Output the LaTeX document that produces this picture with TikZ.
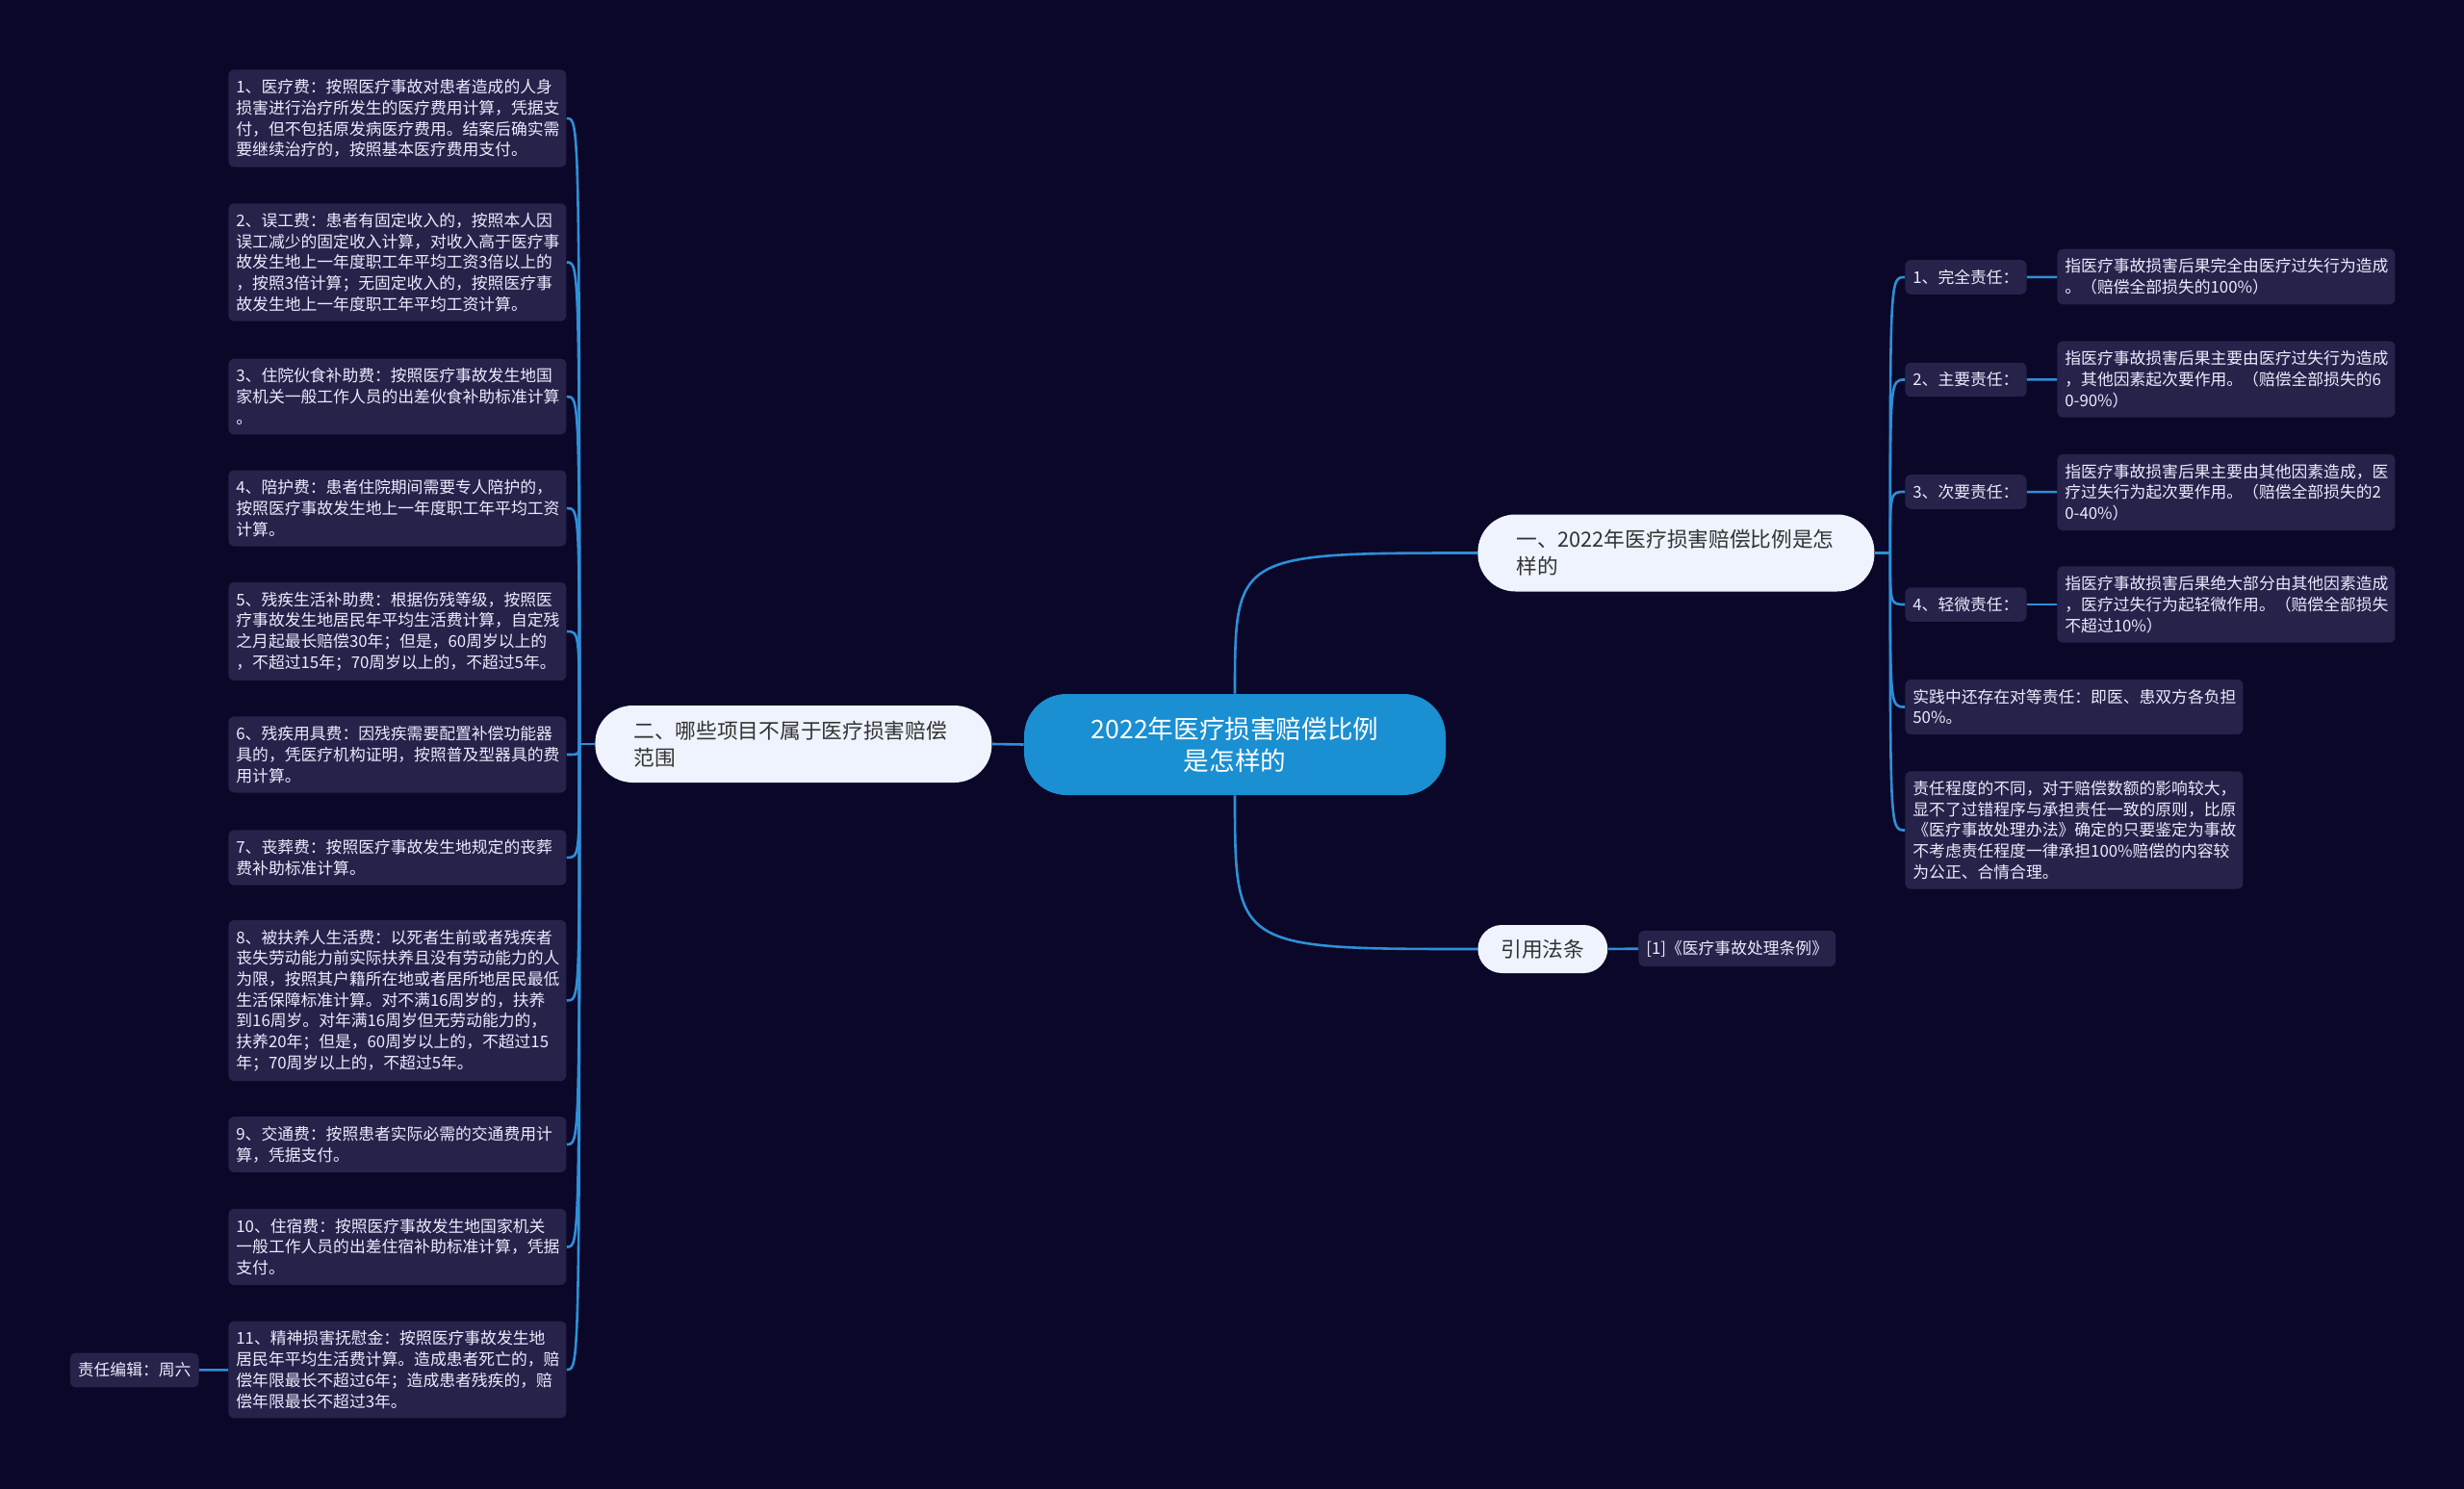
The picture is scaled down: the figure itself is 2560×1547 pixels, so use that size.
\documentclass[tikz,border=0pt]{standalone}
\usepackage{fontspec}
\setmainfont{Noto Sans CJK SC}
\definecolor{bgdark}{HTML}{0B0729}
\definecolor{leafbg}{HTML}{262249}
\definecolor{linkblue}{HTML}{2E8FD6}
\definecolor{rootblue}{HTML}{1A8FD2}
\definecolor{topicbg}{HTML}{EEF3FD}
\definecolor{topictext}{HTML}{333333}
\begin{document}
\begin{tikzpicture}[x=0.5pt,y=-0.5pt,
  leaf/.style={anchor=west, fill=leafbg, rounded corners=3pt, text=white!92!blue, inner xsep=4pt, inner ysep=5pt, align=left, font=\fontsize{8.4pt}{10.85pt}\selectfont},
  wideleaf/.style={leaf, text width=167.5pt},
  topic/.style={anchor=west, fill=topicbg, text=topictext, rounded corners=19.5pt, inner xsep=20pt, inner ysep=7pt, minimum height=40pt, text width=166pt, align=left, font=\fontsize{10.85pt}{14pt}\selectfont},
  link/.style={draw=linkblue, line width=1.3pt}]
\useasboundingbox (0,0) rectangle (2560,1547);
\fill[bgdark] (0,0) rectangle (2560,1547);
% root and main topics
\node[fill=rootblue, text=white, rounded corners=22pt, inner xsep=24.5pt, inner ysep=6pt, minimum height=52.5pt, text width=170pt, align=center, font=\fontsize{13.3pt}{16.5pt}\selectfont] (root) at (1283,773.5){2022年医疗损害赔偿比例\\是怎样的};
\node[topic] (tpa) at (1535,574.5){一、2022年医疗损害赔偿比例是怎\\样的};
\node[topic] (tpb) at (618,773){二、哪些项目不属于医疗损害赔偿\\范围};
\node[topic, text width=, minimum height=25pt, rounded corners=12.5pt, inner xsep=12pt] (tpc) at (1535,986){引用法条};
\draw[link](root.west) -- (tpb.east);
\draw[link](root.north) .. controls (root.north |- tpa.west) .. (tpa.west);
\draw[link](root.south) .. controls (root.south |- tpc.west) .. (tpc.west);
% right branch: degrees of liability
\coordinate (hubA) at ([xshift=8pt]tpa.east);
\draw[link](tpa.east) -- (hubA);
\node[leaf] (ra1) at (1979,288){1、完全责任：};
\node[wideleaf] (rb1) at (2137,287.5){指医疗事故损害后果完全由医疗过失行为造成\\。（赔偿全部损失的100\%）};
\node[leaf] (ra2) at (1979,394.5){2、主要责任：};
\node[wideleaf] (rb2) at (2137,394){指医疗事故损害后果主要由医疗过失行为造成\\，其他因素起次要作用。（赔偿全部损失的6\\0-90\%）};
\node[leaf] (ra3) at (1979,511){3、次要责任：};
\node[wideleaf] (rb3) at (2137,511.5){指医疗事故损害后果主要由其他因素造成，医\\疗过失行为起次要作用。（赔偿全部损失的2\\0-40\%）};
\node[leaf] (ra4) at (1979,628){4、轻微责任：};
\node[wideleaf] (rb4) at (2137,628){指医疗事故损害后果绝大部分由其他因素造成\\，医疗过失行为起轻微作用。（赔偿全部损失\\不超过10\%）};
\node[wideleaf] (ra5) at (1979,734.5){实践中还存在对等责任：即医、患双方各负担\\50\%。};
\node[wideleaf] (ra6) at (1979,862.5){责任程度的不同，对于赔偿数额的影响较大，\\显不了过错程序与承担责任一致的原则，比原\\《医疗事故处理办法》确定的只要鉴定为事故\\不考虑责任程度一律承担100\%赔偿的内容较\\为公正、合情合理。};
\draw[link](hubA) .. controls (hubA |- ra1.west) .. (ra1.west);
\draw[link](hubA) .. controls (hubA |- ra2.west) .. (ra2.west);
\draw[link](hubA) .. controls (hubA |- ra3.west) .. (ra3.west);
\draw[link](hubA) .. controls (hubA |- ra4.west) .. (ra4.west);
\draw[link](hubA) .. controls (hubA |- ra5.west) .. (ra5.west);
\draw[link](hubA) .. controls (hubA |- ra6.west) .. (ra6.west);
\draw[link](ra1) -- (rb1);
\draw[link](ra2) -- (rb2);
\draw[link](ra3) -- (rb3);
\draw[link](ra4) -- (rb4);
% left branch: items of compensation
\coordinate (hubB) at ([xshift=-8pt]tpb.west);
\draw[link](tpb.west) -- (hubB);
\node[wideleaf] (lb1) at (237,123){1、医疗费：按照医疗事故对患者造成的人身\\损害进行治疗所发生的医疗费用计算，凭据支\\付，但不包括原发病医疗费用。结案后确实需\\要继续治疗的，按照基本医疗费用支付。};
\node[wideleaf] (lb2) at (237,272.5){2、误工费：患者有固定收入的，按照本人因\\误工减少的固定收入计算，对收入高于医疗事\\故发生地上一年度职工年平均工资3倍以上的\\，按照3倍计算；无固定收入的，按照医疗事\\故发生地上一年度职工年平均工资计算。};
\node[wideleaf] (lb3) at (237,412){3、住院伙食补助费：按照医疗事故发生地国\\家机关一般工作人员的出差伙食补助标准计算\\。};
\node[wideleaf] (lb4) at (237,528){4、陪护费：患者住院期间需要专人陪护的，\\按照医疗事故发生地上一年度职工年平均工资\\计算。};
\node[wideleaf] (lb5) at (237,656){5、残疾生活补助费：根据伤残等级，按照医\\疗事故发生地居民年平均生活费计算，自定残\\之月起最长赔偿30年；但是，60周岁以上的\\，不超过15年；70周岁以上的，不超过5年。};
\node[wideleaf] (lb6) at (237,784){6、残疾用具费：因残疾需要配置补偿功能器\\具的，凭医疗机构证明，按照普及型器具的费\\用计算。};
\node[wideleaf] (lb7) at (237,891){7、丧葬费：按照医疗事故发生地规定的丧葬\\费补助标准计算。};
\node[wideleaf] (lb8) at (237,1039.5){8、被扶养人生活费：以死者生前或者残疾者\\丧失劳动能力前实际扶养且没有劳动能力的人\\为限，按照其户籍所在地或者居所地居民最低\\生活保障标准计算。对不满16周岁的，扶养\\到16周岁。对年满16周岁但无劳动能力的，\\扶养20年；但是，60周岁以上的，不超过15\\年；70周岁以上的，不超过5年。};
\node[wideleaf] (lb9) at (237,1189){9、交通费：按照患者实际必需的交通费用计\\算，凭据支付。};
\node[wideleaf] (lb10) at (237,1295.5){10、住宿费：按照医疗事故发生地国家机关\\一般工作人员的出差住宿补助标准计算，凭据\\支付。};
\node[wideleaf] (lb11) at (237,1423){11、精神损害抚慰金：按照医疗事故发生地\\居民年平均生活费计算。造成患者死亡的，赔\\偿年限最长不超过6年；造成患者残疾的，赔\\偿年限最长不超过3年。};
\node[leaf] (ed) at (72.5,1423.5){责任编辑：周六};
\draw[link](hubB) .. controls (hubB |- lb1.east) .. (lb1.east);
\draw[link](hubB) .. controls (hubB |- lb2.east) .. (lb2.east);
\draw[link](hubB) .. controls (hubB |- lb3.east) .. (lb3.east);
\draw[link](hubB) .. controls (hubB |- lb4.east) .. (lb4.east);
\draw[link](hubB) .. controls (hubB |- lb5.east) .. (lb5.east);
\draw[link](hubB) .. controls (hubB |- lb6.east) .. (lb6.east);
\draw[link](hubB) .. controls (hubB |- lb7.east) .. (lb7.east);
\draw[link](hubB) .. controls (hubB |- lb8.east) .. (lb8.east);
\draw[link](hubB) .. controls (hubB |- lb9.east) .. (lb9.east);
\draw[link](hubB) .. controls (hubB |- lb10.east) .. (lb10.east);
\draw[link](hubB) .. controls (hubB |- lb11.east) .. (lb11.east);
\draw[link](lb11) -- (ed);
% cited regulation
\node[leaf] (law) at (1702,985.5){[1]《医疗事故处理条例》};
\draw[link](tpc) -- (law);
\end{tikzpicture}
\end{document}
